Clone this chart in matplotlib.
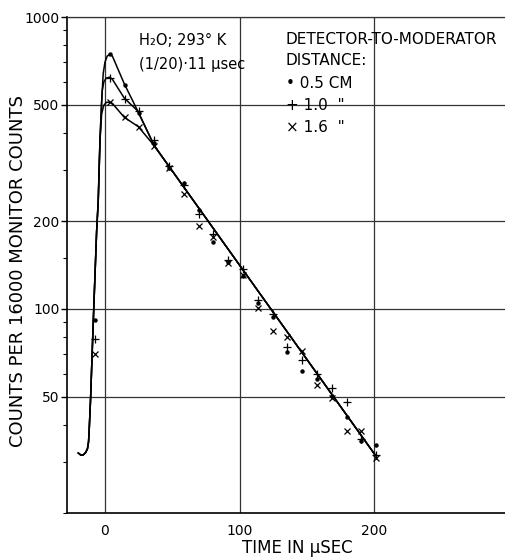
import matplotlib
matplotlib.use("Agg")
import matplotlib.pyplot as plt
from matplotlib.ticker import FixedLocator, NullFormatter

# channel times (usec) and counts per 16000 monitor counts
times = [-7.4, 3.6, 14.6, 25.6, 36.6, 47.6, 58.6, 69.6, 80.6, 91.6,
         102.6, 113.6, 124.6, 135.6, 146.6, 157.6, 168.6, 179.6, 190.6, 201.6]
counts_05 = [92, 745, 585, 470, 370, 305, 270, 219, 170, 145,
             130, 105, 94, 71, 61.5, 57.5, 50.5, 42.7, 35.3, 34.3]
counts_10 = [79, 620, 525, 478, 380, 308, 265, 211, 180, 147,
             137, 107, 96, 74, 67, 60, 53.5, 48.1, 35.9, 31.7]
counts_16 = [70, 511, 455, 420, 362, 303, 248, 192, 177, 144,
             131, 101, 84, 80, 71.6, 55, 49.5, 38.2, 38.2, 30.9]

# hand-drawn curves: common rise, three peaks, common exponential tail
rise_t = [-19.8, -18.0, -16.2, -14.4, -13.0, -12.2, -11.7, -11.2, -10.7, -8.7, -6.2, -5.0, -3.7]
rise_counts = [32.1, 31.6, 31.6, 32.2, 33.2, 35.0, 38.6, 43.5, 49.0, 90.0, 184.0, 234.0, 377.0]
top_t = [-2.6, -1.3, 0.0, 1.7, 3.7, 5.5, 14.4, 24.3]
top_counts = [500, 640, 700, 735, 745, 735, 590, 477]
mid_t = [-2.8, -2.0, -0.8, 1.0, 3.5, 5.5, 14.4, 24.3]
mid_counts = [470, 560, 600, 618, 622, 612, 527, 477]
low_t = [-2.45, -1.0, 1.0, 3.3, 5.5, 14.4, 24.8]
low_counts = [465, 497, 510, 511, 506, 453, 421]
tail_t = [36.7, 201.0]
tail_counts = [362, 31.5]

y_major = [50, 100, 200, 500, 1000]
y_minor = [20, 30, 40, 60, 70, 80, 90, 150, 300, 400, 600, 700, 800, 900]
x_major = [0, 100, 200]


def draw_curve(ax, branch_t, branch_counts):
    t = rise_t + branch_t + tail_t
    c = rise_counts + branch_counts + tail_counts
    ax.plot(t, c, color="black", linewidth=1.1, zorder=3)


fig = plt.figure(figsize=(5.06, 5.57), dpi=100)
ax = fig.add_axes([67 / 506, 44 / 557, 439 / 506, 496 / 557])
ax.set_yscale("log")
ax.set_xlim(-28.2, 298)
ax.set_ylim(20, 1000)

for v in x_major:
    ax.axvline(v, color="#333333", linewidth=0.9, zorder=1)
for v in y_major:
    ax.axhline(v, color="#333333", linewidth=0.9, zorder=1)

for bt, bc in [(top_t, top_counts), (mid_t, mid_counts), (low_t, low_counts)]:
    draw_curve(ax, bt, bc)

ax.plot(times, counts_05, linestyle="none", marker="o", markersize=2.2, color="black", zorder=4)
ax.plot(times, counts_10, linestyle="none", marker="+", markersize=6, markeredgewidth=0.9, color="black", zorder=4)
ax.plot(times, counts_16, linestyle="none", marker="x", markersize=4.5, markeredgewidth=0.9, color="black", zorder=4)

ax.yaxis.set_major_locator(FixedLocator(y_major))
ax.yaxis.set_major_formatter(plt.FixedFormatter([str(v) for v in y_major]))
ax.yaxis.set_minor_locator(FixedLocator(y_minor))
ax.yaxis.set_minor_formatter(NullFormatter())
ax.set_xticks(x_major)
ax.set_xticklabels([str(v) for v in x_major])

ax.tick_params(axis="y", which="major", direction="out", length=4.5, width=1, pad=1, labelsize=10)
ax.tick_params(axis="y", which="minor", direction="out", length=3, width=0.8)
ax.tick_params(axis="x", which="both", length=0, pad=8, labelsize=10)

ax.spines["right"].set_visible(False)
ax.spines["top"].set_linewidth(0.9)
ax.spines["top"].set_color("#333333")
for side in ["left", "bottom"]:
    ax.spines[side].set_linewidth(1.2)

ax.text(25.0, 830, "H\u2082O; 293\u00b0 K", fontsize=10.5, ha="left", va="center")
ax.text(25.0, 690, "(1/20)\u00b711 \u03bcsec", fontsize=10.5, ha="left", va="center")

legend_lines = ["DETECTOR-TO-MODERATOR", "DISTANCE:", "\u2022 0.5 CM", "+ 1.0  \"", "\u00d7 1.6  \""]
legend_y = [40, 61, 83, 106, 128]
for line, py in zip(legend_lines, legend_y):
    fig.text(286 / 506, 1 - py / 557, line, fontsize=11, ha="left", va="center")

fig.text(18 / 506, 1 - 271 / 557, "COUNTS PER 16000 MONITOR COUNTS", fontsize=13,
         rotation=90, ha="center", va="center")
fig.text(297 / 506, 1 - 548 / 557, "TIME IN \u03bcSEC", fontsize=12, ha="center", va="center")

fig.savefig("out.png", dpi=100)
plt.close(fig)
